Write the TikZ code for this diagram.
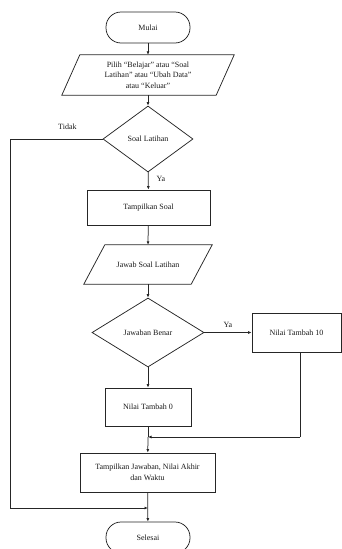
\documentclass[tikz,border=0pt]{standalone}
\usepackage{fontspec}
\setmainfont{Liberation Serif}
\usetikzlibrary{shapes.geometric,arrows.meta}

\begin{document}
\begin{tikzpicture}[x=1pt,y=-1pt,
  every node/.style={font=\fontsize{8}{10.5}\selectfont, text=black!90},
  line/.style={draw=black!85, line width=0.75pt},
  arr/.style={line, -{Latex[length=3.5pt,width=3pt]}},
  terminal/.style={line, rectangle, rounded corners=15pt, minimum width=84pt, minimum height=31pt, inner sep=0pt},
  process/.style={line, rectangle, inner sep=2pt, align=center},
  decision/.style={line, diamond, inner sep=0pt},
  io/.style={rectangle, inner sep=0pt, align=center},
  lbl/.style={inner sep=0pt}
]
\useasboundingbox (0,0) rectangle (342,549);

% start
\node[terminal] (mulai) at (148,27.5) {Mulai};

% menu choice (input/output)
\node[io, minimum width=154pt, minimum height=40pt] (pilih) at (148,75)
  {Pilih “Belajar” atau “Soal\\Latihan” atau “Ubah Data”\\atau “Keluar”};
\draw[line] ([xshift=9pt]pilih.north west) -- ([xshift=9pt]pilih.north east)
  -- ([xshift=-9pt]pilih.south east) -- ([xshift=-9pt]pilih.south west) -- cycle;

% decision: practice questions?
\node[decision, minimum width=90pt, minimum height=66pt] (soal) at (148,139) {Soal Latihan};

% show question
\node[process, minimum width=123pt, minimum height=35pt] (tampil) at (148.5,207.5) {Tampilkan Soal};

% answer (input/output)
\node[io, minimum width=107pt, minimum height=39pt] (jawab) at (148,264.5) {Jawab Soal Latihan};
\draw[line] ([xshift=10.5pt]jawab.north west) -- ([xshift=10.5pt]jawab.north east)
  -- ([xshift=-10.5pt]jawab.south east) -- ([xshift=-10.5pt]jawab.south west) -- cycle;

% decision: correct answer?
\node[decision, minimum width=112pt, minimum height=69pt] (benar) at (148,332.5) {Jawaban Benar};

% score branches
\node[process, minimum width=89pt, minimum height=39pt] (n10) at (296.5,332.5) {Nilai Tambah 10};
\node[process, minimum width=86pt, minimum height=38pt] (n0) at (148,407) {Nilai Tambah 0};

% results
\node[process, minimum width=135pt, minimum height=39pt] (hasil) at (147.5,472.5)
  {Tampilkan Jawaban, Nilai Akhir\\dan Waktu};

% end
\node[terminal] (selesai) at (148,537.5) {Selesai};

% merge points
\coordinate (m1) at (148,437);
\coordinate (m2) at (148,508);
\coordinate (left) at (10,139);
\coordinate (leftdown) at (10,508);
\coordinate (n10down) at (300,437);

% connectors
\draw[arr] (mulai) -- (pilih.south |- pilih.north);
\draw[arr] (pilih) -- (soal);
\draw[arr] (soal) -- node[lbl, right, pos=0.4, xshift=8pt] {Ya} (tampil);
\draw[arr] (tampil) -- (jawab.south |- jawab.north);
\draw[arr] (jawab) -- (benar);
\draw[arr] (benar) -- node[lbl, above, pos=0.5, yshift=5pt] {Ya} (n10);
\draw[arr] (benar) -- (n0);
\draw[line] (n0) -- (m1);
\draw[arr] (m1) -- (hasil);
\draw[line] (n10.south -| n10down) -- (n10down);
\draw[arr] (n10down) -- (m1);
\draw[arr] (hasil) -- (selesai);
\draw[line] (soal.west) -- node[lbl, above, pos=0.38, yshift=9pt] {Tidak} (left) -- (leftdown);
\draw[arr] (leftdown) -- (m2);
\end{tikzpicture}
\end{document}
